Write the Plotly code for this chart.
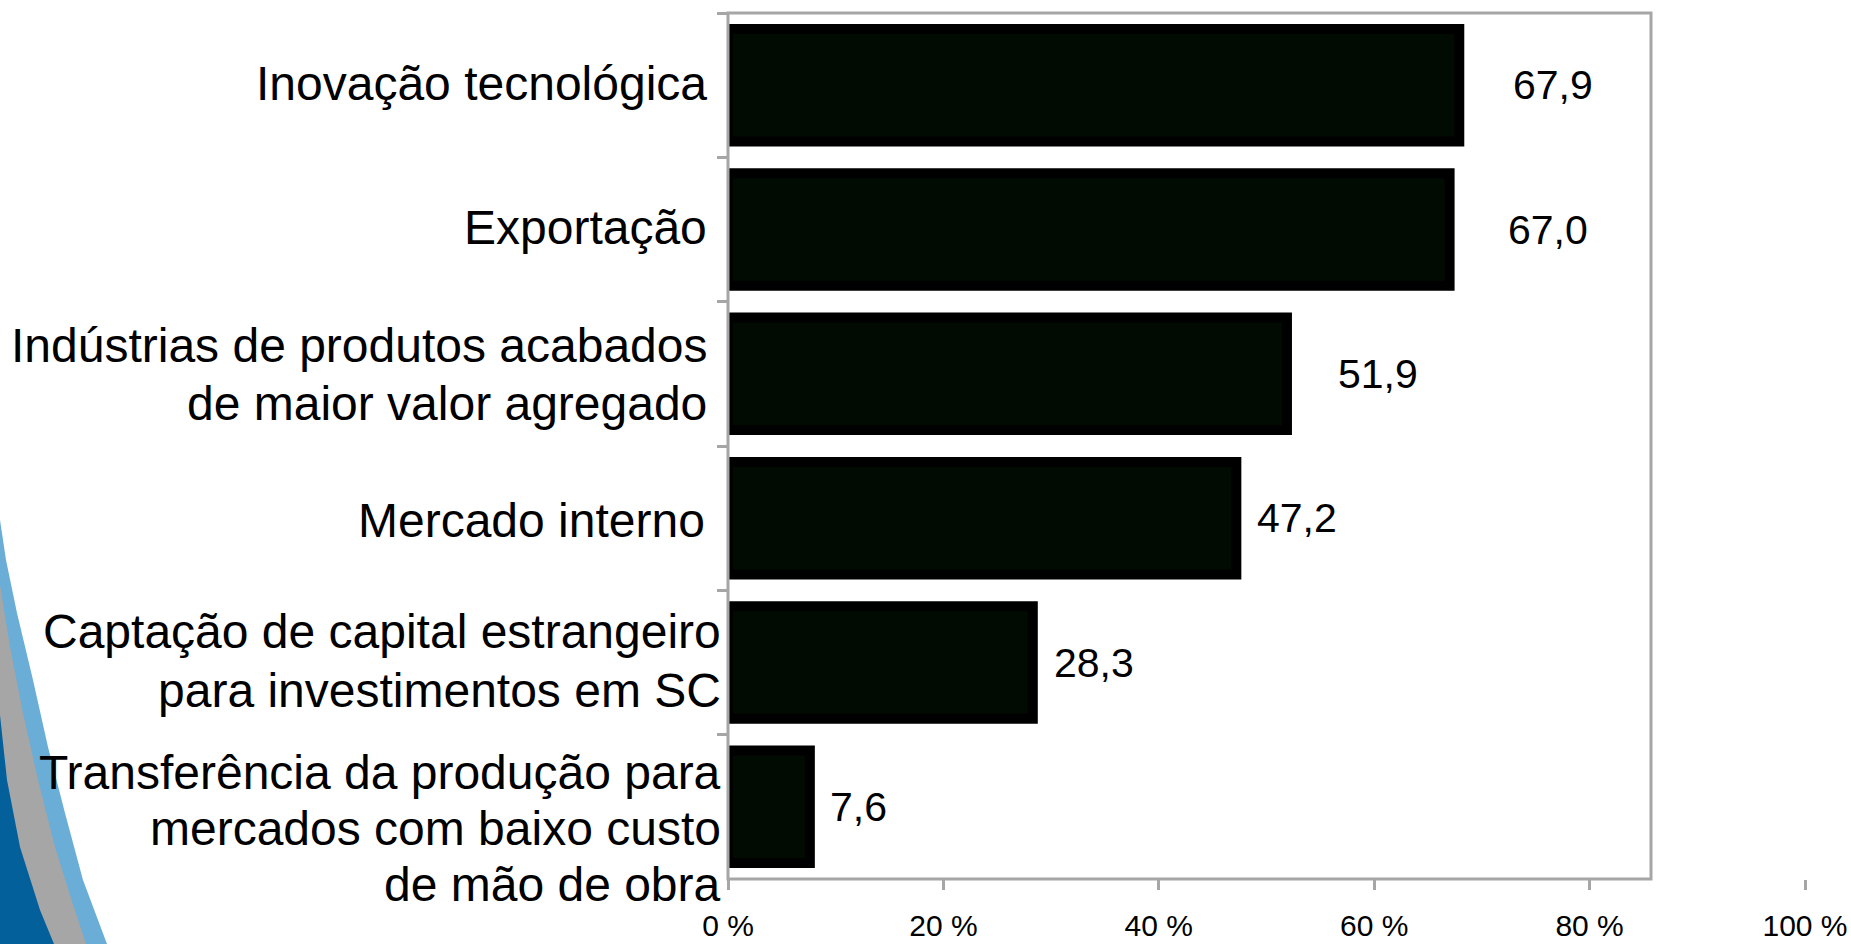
import plotly.graph_objects as go

# ---- data ----
categories = [
    "Inovação tecnológica",
    "Exportação",
    "Indústrias de produtos acabados de maior valor agregado",
    "Mercado interno",
    "Captação de capital estrangeiro para investimentos em SC",
    "Transferência da produção para mercados com baixo custo de mão de obra",
]
category_labels = [
    "Inovação tecnológica",
    "Exportação",
    "Indústrias de produtos acabados<br>de maior valor agregado",
    "Mercado interno",
    "Captação de capital estrangeiro<br>para investimentos em SC",
    "Transferência da produção para<br>mercados com baixo custo<br>de mão de obra",
]
values = [67.9, 67.0, 51.9, 47.2, 28.3, 7.6]
value_labels = ["67,9", "67,0", "51,9", "47,2", "28,3", "7,6"]
tick_vals = [0, 20, 40, 60, 80, 100]
tick_text = ["0 %", "20 %", "40 %", "60 %", "80 %", "100 %"]

# ---- style ----
W, H = 1851, 944
L, R, T, B = 728, 1851 - 1805, 13, 944 - 879
FONT = "Arial, Liberation Sans, sans-serif"
GRID = "#a6a6a6"
label_xshift = [94, 98, 91, 61, 61, 49]
cat_yshift = [2, 2, -1, -2, 2, -22]
cat_xshift = [-19, -19, -19, -21, -5, -5]
cat_line_gap = [0, 0, 58, 0, 59, 56]

pw, ph = W - L - R, H - T - B


def px(x, y):
    return (x - L) / pw, (H - B - y) / ph


def path(points):
    pts = [px(x, y) for x, y in points]
    d = "M " + " L ".join(f"{a:.5f},{b:.5f}" for a, b in pts) + " Z"
    return d


light = [(0, 944), (107, 944), (83, 880), (65, 813), (48, 747), (33, 680), (17, 613), (6, 560), (0, 520)]
gray = [(0, 944), (86, 944), (70, 895), (55, 847), (38, 780), (23, 713), (10, 647), (0, 585)]
dark = [(0, 944), (54, 944), (40, 910), (20, 847), (7, 780), (0, 715)]

fig = go.Figure()
fig.add_trace(go.Bar(
    x=values, y=categories, orientation="h",
    marker=dict(color="#020b02", line=dict(color="#000000", width=10)),
    hoverinfo="skip",
))

shapes = [
    dict(type="path", xref="paper", yref="paper", path=path(light),
         fillcolor="#6aadd7", line=dict(width=0), layer="below"),
    dict(type="path", xref="paper", yref="paper", path=path(gray),
         fillcolor="#a6a6a6", line=dict(width=0), layer="below"),
    dict(type="path", xref="paper", yref="paper", path=path(dark),
         fillcolor="#03609b", line=dict(width=0), layer="below"),
    dict(type="rect", xref="paper", yref="paper", x0=0, x1=(1651 - L) / pw, y0=0, y1=1,
         line=dict(color=GRID, width=3), layer="above"),
]

annotations = []
for c, v, t, s in zip(categories, values, value_labels, label_xshift):
    annotations.append(dict(x=v, y=c, xref="x", yref="y", text=t, showarrow=False,
                            xanchor="center", yanchor="middle", xshift=s,
                            font=dict(family=FONT, size=41, color="#000000")))
for c, t, ys, xs, gap in zip(categories, category_labels, cat_yshift, cat_xshift, cat_line_gap):
    lines = t.split("<br>")
    n = len(lines)
    for i, line in enumerate(lines):
        annotations.append(dict(x=0, y=c, xref="paper", yref="y", text=line, showarrow=False,
                                xanchor="right", yanchor="middle", align="right",
                                xshift=xs, yshift=ys - (i - (n - 1) / 2) * gap,
                                font=dict(family=FONT, size=48, color="#000000")))

fig.update_layout(
    width=W, height=H,
    margin=dict(l=L, r=R, t=T, b=B, pad=0, autoexpand=False),
    paper_bgcolor="white", plot_bgcolor="white",
    showlegend=False, bargap=0.22,
    shapes=shapes, annotations=annotations,
    xaxis=dict(range=[0, 100], tickvals=tick_vals, ticktext=tick_text,
               automargin=False,
               showgrid=False, zeroline=False, showline=False,
               ticks="outside", ticklen=10, tickwidth=3, tickcolor=GRID,
               ticklabelstandoff=10,
               tickfont=dict(family=FONT, size=30, color="#000000")),
    yaxis=dict(type="category", categoryorder="array", categoryarray=categories,
               autorange="reversed", showticklabels=False, showgrid=False,
               automargin=False,
               zeroline=False, showline=False,
               ticks="outside", tickson="boundaries", ticklen=10, tickwidth=3,
               tickcolor=GRID),
)

fig.write_html("out.html",
               config={"displayModeBar": False},
               post_script="document.body.style.margin='0';document.body.style.overflow='hidden';")
